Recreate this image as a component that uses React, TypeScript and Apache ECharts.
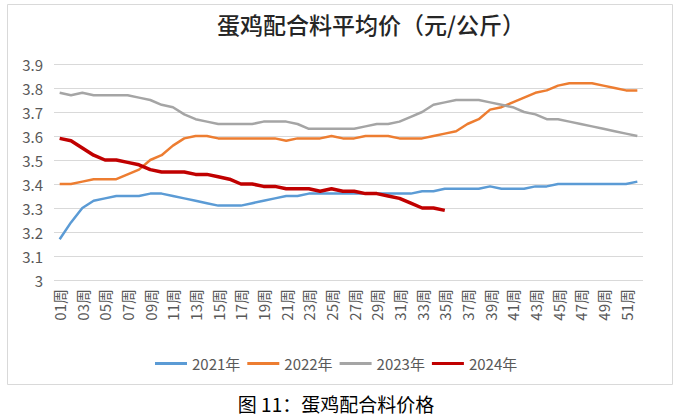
import React, { useEffect, useRef } from "react";
import * as echarts from "echarts";

const weeks: string[] = Array.from({ length: 52 }, (_, i) => String(i + 1).padStart(2, "0") + "周");

const s2021 = [
  3.17, 3.24, 3.30, 3.33, 3.34, 3.35, 3.35, 3.35, 3.36, 3.36,
  3.35, 3.34, 3.33, 3.32, 3.31, 3.31, 3.31, 3.32, 3.33, 3.34,
  3.35, 3.35, 3.36, 3.36, 3.36, 3.36, 3.36, 3.36, 3.36, 3.36,
  3.36, 3.36, 3.37, 3.37, 3.38, 3.38, 3.38, 3.38, 3.39, 3.38,
  3.38, 3.38, 3.39, 3.39, 3.40, 3.40, 3.40, 3.40, 3.40, 3.40,
  3.40, 3.41,
];
const s2022 = [
  3.40, 3.40, 3.41, 3.42, 3.42, 3.42, 3.44, 3.46, 3.50, 3.52,
  3.56, 3.59, 3.60, 3.60, 3.59, 3.59, 3.59, 3.59, 3.59, 3.59,
  3.58, 3.59, 3.59, 3.59, 3.60, 3.59, 3.59, 3.60, 3.60, 3.60,
  3.59, 3.59, 3.59, 3.60, 3.61, 3.62, 3.65, 3.67, 3.71, 3.72,
  3.74, 3.76, 3.78, 3.79, 3.81, 3.82, 3.82, 3.82, 3.81, 3.80,
  3.79, 3.79,
];
const s2023 = [
  3.78, 3.77, 3.78, 3.77, 3.77, 3.77, 3.77, 3.76, 3.75, 3.73,
  3.72, 3.69, 3.67, 3.66, 3.65, 3.65, 3.65, 3.65, 3.66, 3.66,
  3.66, 3.65, 3.63, 3.63, 3.63, 3.63, 3.63, 3.64, 3.65, 3.65,
  3.66, 3.68, 3.70, 3.73, 3.74, 3.75, 3.75, 3.75, 3.74, 3.73,
  3.72, 3.70, 3.69, 3.67, 3.67, 3.66, 3.65, 3.64, 3.63, 3.62,
  3.61, 3.60,
];
const s2024 = [
  3.59, 3.58, 3.55, 3.52, 3.50, 3.50, 3.49, 3.48, 3.46, 3.45,
  3.45, 3.45, 3.44, 3.44, 3.43, 3.42, 3.40, 3.40, 3.39, 3.39,
  3.38, 3.38, 3.38, 3.37, 3.38, 3.37, 3.37, 3.36, 3.36, 3.35,
  3.34, 3.32, 3.30, 3.30, 3.29,
];

const seriesNames = ["2021年", "2022年", "2023年", "2024年"];
const seriesColors = ["#5B9BD5", "#ED7D31", "#A5A5A5", "#C00000"];
const seriesWidths = [2.5, 2.5, 2.5, 3.5];
const titleText = "蛋鸡配合料平均价（元/公斤）";
const captionText = "图 11：蛋鸡配合料价格";

const FONT = "'Noto Sans CJK SC', 'Noto Sans', sans-serif";

export default function App() {
  const ref = useRef<HTMLDivElement>(null);
  useEffect(() => {
    if (!ref.current) return;
    const chart = echarts.init(ref.current, undefined, { renderer: "svg" });
    const data = [s2021, s2022, s2023, s2024];
    chart.setOption({
      animation: false,
      backgroundColor: "#ffffff",
      textStyle: { fontFamily: FONT },
      title: {
        text: titleText,
        left: 366,
        top: 7,
        textAlign: "center",
        textStyle: { fontSize: 23, fontWeight: 500, color: "#262626", fontFamily: FONT },
      },
      legend: {
        data: seriesNames,
        left: 150,
        top: 351,
        icon: "rect",
        itemWidth: 32,
        itemHeight: 3,
        itemGap: 7,
        textStyle: { fontSize: 15, color: "#595959", fontFamily: FONT },
      },
      grid: { left: 54, right: 44, top: 64, bottom: 136, containLabel: false },
      xAxis: {
        type: "category",
        data: weeks,
        boundaryGap: true,
        axisLine: { show: false },
        axisTick: { show: false },
        axisLabel: {
          interval: 1,
          rotate: 90,
          fontSize: 15,
          color: "#595959",
          margin: 9,
          fontFamily: FONT,
        },
      },
      yAxis: {
        type: "value",
        min: 3,
        max: 3.9,
        interval: 0.1,
        axisLine: { show: false },
        axisTick: { show: false },
        splitLine: { lineStyle: { color: "#D9D9D9", width: 1 } },
        axisLabel: {
          fontSize: 15,
          color: "#595959",
          margin: 11,
          fontFamily: FONT,
          formatter: (v: number) => (Math.abs(v - 3) < 1e-9 ? "3" : v.toFixed(1)),
        },
      },
      series: seriesNames.map((name, i) => ({
        name,
        type: "line",
        data: data[i],
        symbol: "none",
        smooth: false,
        lineStyle: { color: seriesColors[i], width: seriesWidths[i] },
        itemStyle: { color: seriesColors[i] },
        z: i === 3 ? 5 : 2,
      })),
      graphic: [
        {
          type: "rect",
          shape: { x: 7.5, y: 4.5, width: 665, height: 380 },
          style: { fill: "none", stroke: "#D9D9D9", lineWidth: 1 },
          silent: true,
          z: -1,
        },
        {
          type: "text",
          x: 336,
          y: 403,
          style: {
            text: captionText,
            fill: "#000000",
            fontSize: 19,
            fontFamily: FONT,
            align: "center",
            verticalAlign: "middle",
          },
        },
      ],
    });
    return () => chart.dispose();
  }, []);
  return (
    <div
      ref={ref}
      style={{ position: "fixed", left: 0, top: 0, width: 687, height: 416 }}
    />
  );
}
